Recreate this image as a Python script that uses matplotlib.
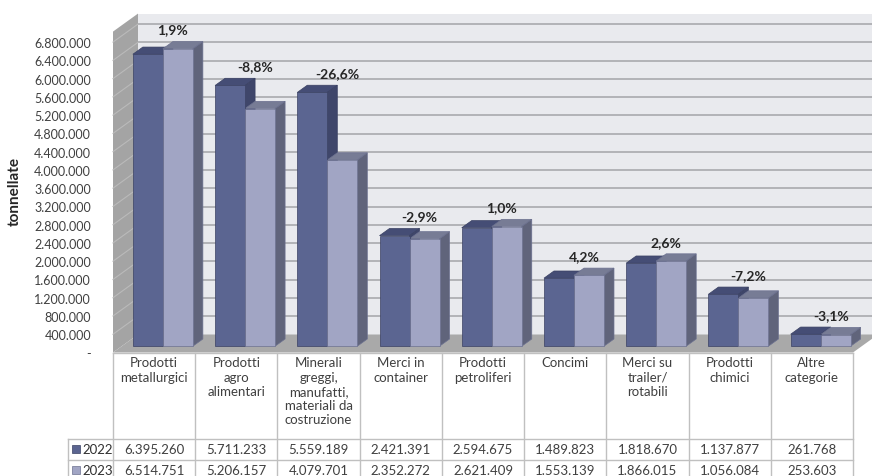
import matplotlib.pyplot as plt
from matplotlib.patches import Polygon, Rectangle

plt.rcParams['font.family'] = ['Lato', 'DejaVu Sans']

# Merci movimentate per categoria (tonnellate)
categorie = ['Prodotti\nmetallurgici', 'Prodotti\nagro\nalimentari',
             'Minerali\ngreggi,\nmanufatti,\nmateriali da\ncostruzione',
             'Merci in\ncontainer', 'Prodotti\npetroliferi', 'Concimi',
             'Merci su\ntrailer/\nrotabili', 'Prodotti\nchimici', 'Altre\ncategorie']
anni = ['2022', '2023']
valori_2022 = [6395260, 5711233, 5559189, 2421391, 2594675, 1489823, 1818670, 1137877, 261768]
valori_2023 = [6514751, 5206157, 4079701, 2352272, 2621409, 1553139, 1866015, 1056084, 253603]
variazioni = ['1,9%', '-8,8%', '-26,6%', '-2,9%', '1,0%', '4,2%', '2,6%', '-7,2%', '-3,1%']
tick_valori = [0, 400000, 800000, 1200000, 1600000, 2000000, 2400000, 2800000, 3200000,
               3600000, 4000000, 4400000, 4800000, 5200000, 5600000, 6000000, 6400000, 6800000]

colori_fronte = ['#5b6591', '#a1a5c4']
colori_top = ['#454d75', '#777c95']
colori_lato = ['#3f466a', '#60647b']
colori_bordo = ['#3a4163', '#6c7190']
colore_testo = '#404040'


def fmt_it(v):
    return f'{v:,}'.replace(',', '.') if v else '-'


W, H, DPI = 872, 477, 100
fig = plt.figure(figsize=(W / DPI, H / DPI), dpi=DPI)

# geometria in pixel del piano frontale
X0, X1 = 113, 853
Y_ZERO = 353.5
PX_PER_T = 45.65e-6
n = len(categorie)
COL = (X1 - X0) / n

ax = fig.add_axes([X0 / W, 1 - Y_ZERO / H, (X1 - X0) / W, Y_ZERO / H])
ax.set_xlim(-0.5, n - 0.5)
ax.set_ylim(0, Y_ZERO / PX_PER_T)
ax.set_facecolor('none')
for s in ax.spines.values():
    s.set_visible(False)

# profondita' prospettica: vettore (25 px, 18 px) per l'intera profondita'
DX = 25 / COL
DY = 18 / PX_PER_T
WALL_TOP = 7.03e6
D0, D1 = 0.35, 0.75     # profondita' fronte/retro delle barre
BW = 0.365              # larghezza di una barra


def proj(x, y, d):
    return (x + d * DX, y + d * DY)


def poly(pts, **kw):
    ax.add_patch(Polygon(pts, closed=True, clip_on=False, **kw))


# parete di fondo, parete laterale e pavimento
poly([proj(-0.5, 0, 1), proj(n - 0.5, 0, 1), proj(n - 0.5, WALL_TOP, 1), proj(-0.5, WALL_TOP, 1)],
     fc='#e9eaee', ec='none', zorder=0)
poly([proj(-0.5, 0, 0), proj(-0.5, 0, 1), proj(-0.5, WALL_TOP, 1), proj(-0.5, WALL_TOP, 0)],
     fc='#a4a4a4', ec='none', zorder=1)
poly([proj(-0.5, 0, 0), proj(n - 0.5, 0, 0), proj(n - 0.5, 0, 1), proj(-0.5, 0, 1)],
     fc='#a9a9a9', ec='none', zorder=1)

for v in tick_valori[1:]:
    xa, ya = proj(-0.5, v, 1)
    xb, yb = proj(n - 0.5, v, 1)
    ax.plot([xa, xb], [ya, yb], color='#b2b3b7', lw=1.4, zorder=0.5, clip_on=False,
            solid_capstyle='butt')
    xc, yc = proj(-0.5, v, 0)
    ax.plot([xc, xa], [yc, ya], color='#bababa', lw=0.8, zorder=1.5, clip_on=False)

# barre 3D: fronte con ax.bar, top e lato come poligoni
for j, valori in enumerate([valori_2022, valori_2023]):
    left = [i - BW + j * BW for i in range(n)]
    ax.bar([x + D0 * DX for x in left], valori, width=BW, bottom=D0 * DY, align='edge',
           color=colori_fronte[j], edgecolor=colori_bordo[j], lw=0.5, zorder=4, clip_on=False)
    for x, v in zip(left, valori):
        poly([proj(x, v, D0), proj(x + BW, v, D0), proj(x + BW, v, D1), proj(x, v, D1)],
             fc=colori_top[j], ec=colori_bordo[j], lw=0.5, zorder=3)
        poly([proj(x + BW, 0, D0), proj(x + BW, 0, D1), proj(x + BW, v, D1), proj(x + BW, v, D0)],
             fc=colori_lato[j], ec=colori_bordo[j], lw=0.5, zorder=3)

# variazioni percentuali sopra ogni coppia
for i, (a, b, t) in enumerate(zip(valori_2022, valori_2023, variazioni)):
    ax.text(i + D1 * DX, max(a, b) + 0.56e6, t, ha='center', va='center',
            fontsize=10, fontweight='bold', color='#262626', zorder=6)

ax.set_xticks([])
ax.set_yticks(tick_valori)
ax.set_yticklabels([fmt_it(v) for v in tick_valori])
ax.tick_params(axis='y', length=0, pad=15.8, labelsize=9, labelcolor=colore_testo)
ax.set_ylabel('tonnellate', fontsize=11, fontweight='bold', color='#262626')
ax.yaxis.set_label_coords((22 - X0) / (X1 - X0), (Y_ZERO - 192) / Y_ZERO)

# tabella dati sotto il grafico
tab = fig.add_axes([X0 / W, 0, (X1 - X0) / W, (H - Y_ZERO) / H])
tab.set_xlim(-0.5, n - 0.5)
tab.set_ylim(H - Y_ZERO, 0)
tab.axis('off')

HEADER_H, ROW_H = 86.5, 20.5
XL = -0.5 + (68 - X0) / COL
bottom = H - Y_ZERO
lc = '#c0c0c0'
tab.plot([-0.5, n - 0.5], [0.8, 0.8], color=lc, lw=1, clip_on=False)
for k in range(n + 1):
    tab.plot([k - 0.5, k - 0.5], [0, bottom], color=lc, lw=1, clip_on=False)
tab.plot([XL, XL], [HEADER_H, bottom], color=lc, lw=1, clip_on=False)
for r in range(2):
    y = HEADER_H + r * ROW_H
    tab.plot([XL, n - 0.5], [y, y], color=lc, lw=1, clip_on=False)

for i, c in enumerate(categorie):
    tab.text(i, 4, c, ha='center', va='top', fontsize=9.5, linespacing=1.22, color=colore_testo)

for r, (anno, valori) in enumerate(zip(anni, [valori_2022, valori_2023])):
    yc = HEADER_H + (r + 0.5) * ROW_H
    tab.add_patch(Rectangle((XL + 4 / COL, yc - 4), 8 / COL, 8, fc=colori_fronte[r],
                            ec=colori_bordo[r], lw=0.5, clip_on=False))
    tab.text(XL + 14 / COL, yc, anno, ha='left', va='center', fontsize=9.5,
             color='#303030', clip_on=False)
    for i, v in enumerate(valori):
        tab.text(i, yc, fmt_it(v), ha='center', va='center', fontsize=9.5, color=colore_testo)

fig.savefig('out.png', dpi=DPI)
